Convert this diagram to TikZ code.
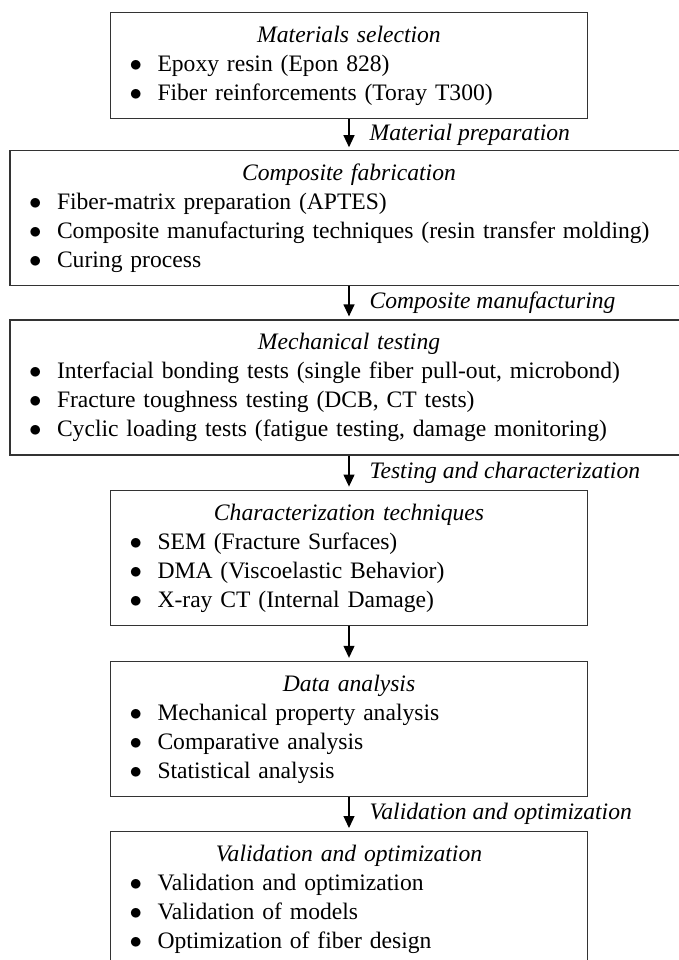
\documentclass[tikz,border=0pt]{standalone}
\usepackage{fontspec}
\setmainfont{Liberation Serif}
\usetikzlibrary{positioning,arrows.meta}
\setlength{\parindent}{0pt}

\newcommand{\ttl}[1]{\makebox[\hsize]{\textit{#1}}\strut}
\newcommand{\itm}[1]{\hspace*{19pt}\makebox[28pt][l]{$\bullet$}#1\strut}

\tikzset{
  stage/.style={draw=black!80, inner xsep=0pt, inner ysep=9.5pt, align=left},
  narrow/.style={stage, text width=477pt},
  wide/.style={stage, text width=678pt},
  lbl/.style={inner sep=0pt, font=\fontsize{23.6pt}{29pt}\selectfont\itshape}
}

\begin{document}
\begin{tikzpicture}[->, >={Triangle[width=11pt,length=12pt]}, shorten >=3pt,
    x=1pt, y=1pt, line width=1.2pt, font=\fontsize{23.6pt}{29pt}\selectfont]
  \useasboundingbox (0,0) rectangle (679,-960);
  \clip (0,0) rectangle (679,-960);

  \node[narrow, anchor=north] (1) at (349,-12) {\ttl{Materials selection}\\
    \itm{Epoxy resin (Epon 828)}\\
    \itm{Fiber reinforcements (Toray T300)}};
  \node[wide] (2) [below=31pt of 1] {\ttl{Composite fabrication}\\
    \itm{Fiber-matrix preparation (APTES)}\\
    \itm{Composite manufacturing techniques (resin transfer molding)}\\
    \itm{Curing process}};
  \node[wide] (3) [below=33pt of 2] {\ttl{Mechanical testing}\\
    \itm{Interfacial bonding tests (single fiber pull-out, microbond)}\\
    \itm{Fracture toughness testing (DCB, CT tests)}\\
    \itm{Cyclic loading tests (fatigue testing, damage monitoring)}};
  \node[narrow] (4) [below=34pt of 3] {\ttl{Characterization techniques}\\
    \itm{SEM (Fracture Surfaces)}\\
    \itm{DMA (Viscoelastic Behavior)}\\
    \itm{X-ray CT (Internal Damage)}};
  \node[narrow] (5) [below=35pt of 4] {\ttl{Data analysis}\\
    \itm{Mechanical property analysis}\\
    \itm{Comparative analysis}\\
    \itm{Statistical analysis}};
  \node[narrow] (6) [below=34pt of 5] {\ttl{Validation and optimization}\\
    \itm{Validation and optimization}\\
    \itm{Validation of models}\\
    \itm{Optimization of fiber design}};

  \path
  (1) edge node[lbl, right=20pt] {Material preparation} (2)
  (2) edge node[lbl, right=20pt] {Composite manufacturing} (3)
  (3) edge node[lbl, right=20pt] {Testing and characterization} (4)
  (4) edge (5)
  (5) edge node[lbl, right=20pt] {Validation and optimization} (6);
\end{tikzpicture}
\end{document}
